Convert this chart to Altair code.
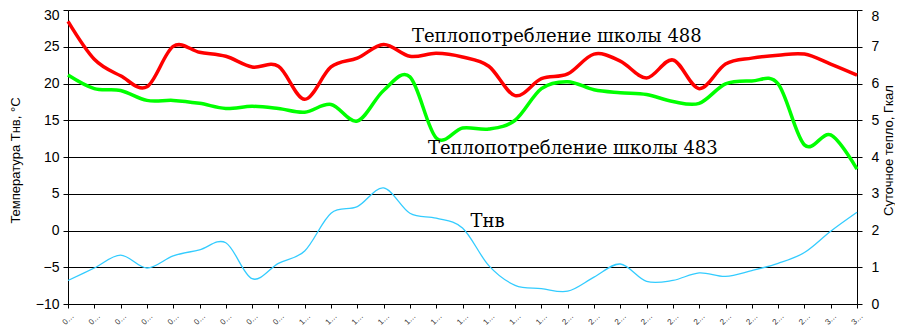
import altair as alt
import pandas as pd

# ---- data ----
dates = [f"{d:02d}.12" for d in range(1, 32)]
heat_488 = [7.69, 6.66, 6.21, 5.91, 7.01, 6.85, 6.74, 6.45, 6.47, 5.57, 6.45,
            6.69, 7.06, 6.74, 6.82, 6.72, 6.47, 5.67, 6.13, 6.26, 6.80, 6.61,
            6.15, 6.64, 5.86, 6.53, 6.69, 6.77, 6.80, 6.53, 6.23]
heat_483 = [6.23, 5.86, 5.81, 5.54, 5.54, 5.46, 5.32, 5.38, 5.32, 5.22, 5.43,
            4.98, 5.81, 6.18, 4.52, 4.79, 4.76, 5.00, 5.86, 6.05, 5.83, 5.75,
            5.70, 5.51, 5.46, 5.99, 6.07, 5.99, 4.33, 4.60, 3.67]
t_out = [-6.8, -5.1, -3.35, -5.1, -3.45, -2.64, -1.67, -6.56, -4.47, -2.78, 2.35,
         3.24, 5.79, 2.35, 1.68, 0.34, -4.78, -7.46, -7.9, -8.26, -6.35, -4.56,
         -6.92, -6.79, -5.76, -6.25, -5.45, -4.47, -3.0, -0.1, 2.48]

series_names = ["Теплопотребление школы 488", "Теплопотребление школы 483"]
series_colors = ["#FF0000", "#00FF00"]

ann_text = ["Теплопотребление школы 488", "Теплопотребление школы 483", "Тнв"]
ann_date = ["14.12", "14.12", "16.12"]
ann_temp = [25.65, 10.47, 0.43]
ann_dx = [2, 18, 8]

left_ticks = [-10, -5, 0, 5, 10, 15, 20, 25, 30]
right_ticks = [0, 1, 2, 3, 4, 5, 6, 7, 8]

# ---- tables ----
heat_df = pd.DataFrame({
    "date": dates * 2,
    "value": heat_488 + heat_483,
    "series": [series_names[0]] * len(dates) + [series_names[1]] * len(dates),
})
temp_df = pd.DataFrame({"date": dates, "t": t_out})

SANS = "Liberation Sans"
SERIF = "DejaVu Serif"

x_scale = alt.Scale(type="point", domain=dates, padding=0)
x_axis = alt.Axis(
    labelExpr="substring(datum.label, 0, 1) + '…'",
    labelAngle=315, labelAlign="center", labelBaseline="middle",
    labelFontSize=8, labelPadding=11, tickSize=4,
    labelFont=SANS, labelColor="#333333", title=None, grid=False,
    domainColor="black", tickColor="black",
)

left_scale = alt.Scale(domain=[-10, 30], nice=False, zero=False)
left_axis = alt.Axis(
    orient="left", values=left_ticks, grid=True, gridColor="black",
    gridOpacity=1, gridWidth=1, tickSize=5, labelPadding=4,
    labelFont=SANS, labelFontSize=14, labelColor="black",
    labelOffset={"condition": {"test": "datum.value == 30", "value": 5}, "value": 0},
    domainColor="black", tickColor="black",
    title="Температура Тнв, °С", titleFont=SANS, titleFontSize=13,
    titleFontWeight="normal", titleColor="black", titleAngle=270,
    titleX=-53, titleY=150, titleAlign="center", titleBaseline="middle",
)

temp_line = alt.Chart(temp_df).mark_line(
    interpolate="cardinal", color="#33CCFF", strokeWidth=1.3
).encode(
    x=alt.X("date:O", scale=x_scale, axis=x_axis, sort=dates),
    y=alt.Y("t:Q", scale=left_scale, axis=left_axis),
)

ann_layers = []
for txt, d, t, dx in zip(ann_text, ann_date, ann_temp, ann_dx):
    df = pd.DataFrame({"text": [txt], "date": [d], "t": [t]})
    ann_layers.append(
        alt.Chart(df).mark_text(
            font=SERIF, fontSize=18, align="left", baseline="alphabetic",
            color="black", dx=dx
        ).encode(
            x=alt.X("date:O", scale=x_scale, axis=x_axis, sort=dates),
            y=alt.Y("t:Q", scale=left_scale, axis=left_axis),
            text="text:N",
        )
    )

left_layer = alt.layer(temp_line, *ann_layers)

heat = alt.Chart(heat_df).mark_line(
    interpolate="cardinal", strokeWidth=3.5
).encode(
    x=alt.X("date:O", scale=x_scale, axis=x_axis, sort=dates),
    y=alt.Y("value:Q", scale=alt.Scale(domain=[0, 8], nice=False, zero=False),
            axis=alt.Axis(
                orient="right", values=right_ticks, grid=False, tickSize=5,
                labelPadding=9, labelFont=SANS, labelFontSize=14, labelColor="black",
                labelOffset={"condition": {"test": "datum.value == 8", "value": 6}, "value": 0},
                domainColor="black", tickColor="black",
                title="Суточное тепло, Гкал", titleFont=SANS, titleFontSize=13,
                titleFontWeight="normal", titleColor="black", titleAngle=270,
                titleX=31, titleY=140, titleAlign="center", titleBaseline="middle",
            )),
    color=alt.Color("series:N", scale=alt.Scale(domain=series_names, range=series_colors),
                    legend=None),
    detail="series:N",
)

chart = alt.layer(heat, left_layer).resolve_scale(y="independent").properties(
    width=789, height=294,
    padding={"left": 60, "top": 2, "right": 38, "bottom": 24},
    autosize=alt.AutoSizeParams(type="none"),
    background="white",
).configure_view(strokeWidth=0)

chart.save("out.html", embed_options={"renderer": "svg", "actions": False})
